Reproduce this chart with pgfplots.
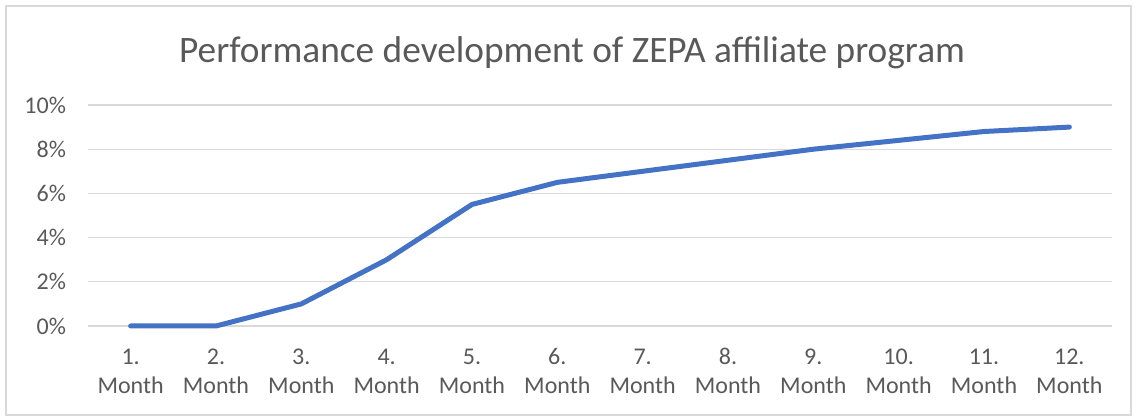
\documentclass[border=0pt]{standalone}
\usepackage{fontspec}
\setmainfont{Carlito}
\usepackage{pgfplots}
\pgfplotsset{compat=1.18}
\definecolor{txt}{HTML}{595959}
\definecolor{gridc}{HTML}{D9D9D9}
\definecolor{linec}{HTML}{4472C4}
\begin{document}
\begin{tikzpicture}[x=0.75pt,y=0.75pt]
\useasboundingbox (0,0) rectangle (1137,417);
\draw[gridc, line width=0.9pt] (6,2) rectangle (1131,411);
\node[txt, font=\fontsize{28}{33}\selectfont] at (572,364) {Performance development of ZEPA affiliate program};
\begin{axis}[
  at={(66pt,68.25pt)}, anchor=south west,
  scale only axis, width=768pt, height=165.75pt,
  xmin=0.5, xmax=12.5, ymin=0, ymax=10,
  axis line style={draw=none},
  tick style={draw=none},
  ymajorgrids, major grid style={gridc, line width=0.9pt},
  ytick={0,2,4,6,8,10},
  yticklabels={0\%,2\%,4\%,6\%,8\%,10\%},
  xtick={1,...,12},
  xticklabels={{1.\\Month},{2.\\Month},{3.\\Month},{4.\\Month},{5.\\Month},{6.\\Month},{7.\\Month},{8.\\Month},{9.\\Month},{10.\\Month},{11.\\Month},{12.\\Month}},
  xticklabel style={align=center, font=\fontsize{18}{21.75}\selectfont, text=txt, anchor=base, yshift=-50.5pt},
  yticklabel style={font=\fontsize{18}{21}\selectfont, text=txt, xshift=-13pt},
  clip=false,
]
\addplot[linec, line width=3.75pt, line cap=round, line join=round] coordinates {
(1,0) (2,0) (3,1) (4,3) (5,5.5) (6,6.5) (7,7) (8,7.5) (9,8) (10,8.4) (11,8.8) (12,9)
};
\end{axis}
\end{tikzpicture}
\end{document}
